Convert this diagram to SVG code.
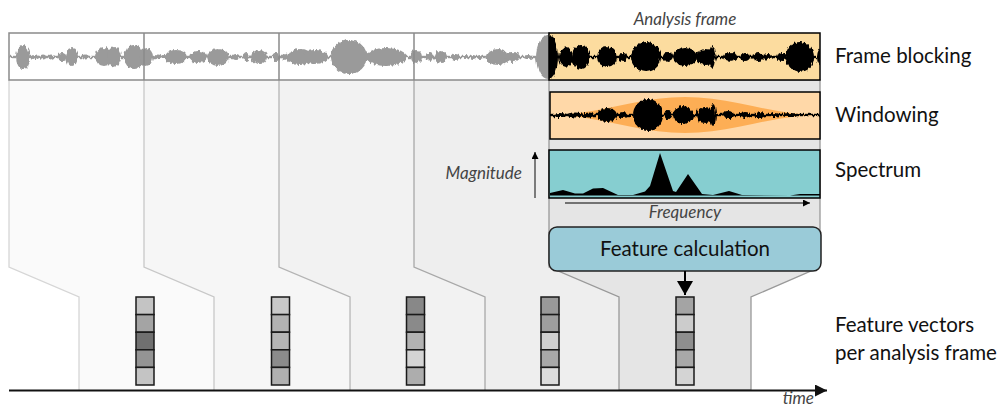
<svg xmlns="http://www.w3.org/2000/svg" width="1001" height="406" viewBox="0 0 1001 406">
  <defs>
    <style>
      .lbl { font-family: Lato, "Liberation Sans", sans-serif; font-size: 20.5px; fill: #111; }
      .cap { font-family: Lato, "Liberation Sans", sans-serif; font-size: 17px; font-style: italic; fill: #444; }
      .wave-gray { fill: #9a9a9a; }
      .wave-black { fill: #000; }
      .cell { stroke: #1a1a1a; stroke-width: 1.5; }
      .col-edge { fill: none; stroke-width: 1.3; }
    </style>
    <!-- ragged edges for the audio envelopes -->
    <filter id="jag" x="-2%" y="-30%" width="104%" height="160%">
      <feTurbulence type="fractalNoise" baseFrequency="0.5 0.09" numOctaves="2" seed="7" result="n"/>
      <feDisplacementMap in="SourceGraphic" in2="n" scale="5" xChannelSelector="R" yChannelSelector="G"/>
    </filter>
    <marker id="mk-time" markerUnits="userSpaceOnUse" markerWidth="13" markerHeight="13" refX="12" refY="6" orient="auto">
      <path d="M0,0 L12,6 L0,12 Z" fill="#111"/>
    </marker>
    <marker id="mk-feat" markerUnits="userSpaceOnUse" markerWidth="17" markerHeight="17" refX="14" refY="8" orient="auto">
      <path d="M0,0 L14,8 L0,16 Z" fill="#000"/>
    </marker>
    <marker id="mk-small" markerUnits="userSpaceOnUse" markerWidth="8" markerHeight="8" refX="7" refY="3.5" orient="auto">
      <path d="M0,0 L7,3.5 L0,7 Z" fill="#000"/>
    </marker>
    <clipPath id="clip-gray"><rect x="9" y="33" width="540" height="47"/></clipPath>
    <clipPath id="clip-black"><rect x="549" y="33" width="271" height="47"/></clipPath>
    <clipPath id="clip-win"><rect x="550" y="92" width="270" height="47"/></clipPath>
  </defs>

  <rect width="1001" height="406" fill="#fff"/>

  <!-- overlapping frame columns, each one drawn over the previous -->
  <g id="frame-columns">
    <path d="M9,80 L9,267 L79,297 L79,390 L214,390 L214,297 L280,267 L280,80 Z" fill="#fafafa"/>
    <path class="col-edge" d="M9,80 L9,267 L79,297 L79,390" stroke="#d6d6d6"/>
    <path d="M144,80 L144,267 L214,297 L214,390 L349,390 L349,297 L415,267 L415,80 Z" fill="#f6f6f6"/>
    <path class="col-edge" d="M144,80 L144,267 L214,297 L214,390" stroke="#c8c8c8"/>
    <path d="M279,80 L279,267 L350,297 L350,390 L485,390 L485,297 L550,267 L550,80 Z" fill="#f2f2f2"/>
    <path class="col-edge" d="M279,80 L279,267 L350,297 L350,390" stroke="#b4b4b4"/>
    <path d="M414,80 L414,267 L485,297 L485,390 L620,390 L620,297 L685,267 L685,80 Z" fill="#eeeeee"/>
    <path class="col-edge" d="M414,80 L414,267 L485,297 L485,390" stroke="#a8a8a8"/>
    <path d="M549,80 L549,267 L619,297 L619,390 L751,390 L751,297 L820,267 L820,80 Z" fill="#e5e5e5" stroke="#999" stroke-width="1.3"/>
  </g>

  <!-- signal cut into frames -->
  <g id="frame-strip">
    <rect x="9" y="33" width="540" height="47" fill="#fff" stroke="#8a8a8a" stroke-width="1.5"/>
    <g clip-path="url(#clip-gray)">
      <g class="wave-gray" filter="url(#jag)">
        <rect x="9" y="55.8" width="545" height="2.4"/>
        <ellipse cx="23" cy="57" rx="7" ry="12"/>
        <ellipse cx="35" cy="57" rx="3" ry="2"/>
        <ellipse cx="43" cy="57" rx="3" ry="2.5"/>
        <ellipse cx="51" cy="57" rx="3" ry="2.5"/>
        <ellipse cx="62" cy="57" rx="4.5" ry="4"/>
        <ellipse cx="72" cy="57" rx="6" ry="9"/>
        <ellipse cx="85" cy="57" rx="4" ry="2.5"/>
        <ellipse cx="104" cy="57" rx="9" ry="9"/>
        <ellipse cx="114" cy="57" rx="7" ry="10"/>
        <ellipse cx="134" cy="57" rx="10" ry="12"/>
        <ellipse cx="146" cy="57" rx="7" ry="9"/>
        <ellipse cx="158" cy="57" rx="3.5" ry="2.5"/>
        <ellipse cx="164" cy="57" rx="3" ry="2"/>
        <ellipse cx="176" cy="57" rx="11" ry="7"/>
        <ellipse cx="198" cy="57" rx="9" ry="6"/>
        <ellipse cx="218" cy="57" rx="11" ry="9"/>
        <ellipse cx="236" cy="57" rx="3.5" ry="3"/>
        <ellipse cx="246" cy="57" rx="3.5" ry="4"/>
        <ellipse cx="259" cy="57" rx="8" ry="7"/>
        <ellipse cx="276" cy="57" rx="4" ry="4"/>
        <ellipse cx="284" cy="57" rx="3.5" ry="3"/>
        <ellipse cx="300" cy="57" rx="13" ry="8"/>
        <ellipse cx="315" cy="57" rx="13" ry="7"/>
        <ellipse cx="349" cy="57" rx="18" ry="17"/>
        <ellipse cx="386" cy="57" rx="21" ry="9"/>
        <ellipse cx="416" cy="57" rx="6" ry="7"/>
        <ellipse cx="430" cy="57" rx="3.5" ry="5"/>
        <ellipse cx="441" cy="57" rx="6" ry="6"/>
        <ellipse cx="455" cy="57" rx="4.5" ry="3"/>
        <ellipse cx="466" cy="57" rx="2.5" ry="2"/>
        <ellipse cx="473" cy="57" rx="2.5" ry="2"/>
        <ellipse cx="480" cy="57" rx="2.5" ry="2"/>
        <ellipse cx="498" cy="57" rx="12" ry="8"/>
        <ellipse cx="512" cy="57" rx="8" ry="5"/>
        <ellipse cx="528" cy="57" rx="4" ry="2"/>
        <ellipse cx="548" cy="57" rx="12" ry="22"/>
      </g>
    </g>
    <line x1="144" y1="33" x2="144" y2="80" stroke="#8a8a8a" stroke-width="1.5"/>
    <line x1="279" y1="33" x2="279" y2="80" stroke="#8a8a8a" stroke-width="1.5"/>
    <line x1="414" y1="33" x2="414" y2="80" stroke="#8a8a8a" stroke-width="1.5"/>
  </g>

  <!-- the frame being analysed -->
  <g id="analysis-frame">
    <rect x="549" y="33" width="271" height="47" fill="#fcdc9f"/>
    <g clip-path="url(#clip-black)">
      <g class="wave-black" filter="url(#jag)">
        <rect x="545" y="55.8" width="280" height="2.4"/>
        <ellipse cx="548" cy="57" rx="10" ry="22"/>
        <ellipse cx="566" cy="57" rx="7" ry="10"/>
        <ellipse cx="581" cy="57" rx="9" ry="12"/>
        <ellipse cx="607" cy="57" rx="10" ry="10"/>
        <ellipse cx="623" cy="57" rx="4" ry="4"/>
        <ellipse cx="646" cy="57" rx="15" ry="15"/>
        <ellipse cx="668" cy="57" rx="5" ry="5"/>
        <ellipse cx="685" cy="57" rx="12" ry="9"/>
        <ellipse cx="706" cy="57" rx="10" ry="8"/>
        <ellipse cx="712" cy="57" rx="3" ry="11"/>
        <ellipse cx="730" cy="57" rx="7" ry="5"/>
        <ellipse cx="745" cy="57" rx="5" ry="4"/>
        <ellipse cx="758" cy="57" rx="6" ry="4"/>
        <ellipse cx="768" cy="57" rx="4" ry="3"/>
        <ellipse cx="782" cy="57" rx="5" ry="4"/>
        <ellipse cx="800" cy="57" rx="14" ry="15"/>
        <ellipse cx="823" cy="57" rx="6" ry="10"/>
      </g>
    </g>
    <rect x="549" y="33" width="271" height="47" fill="none" stroke="#000" stroke-width="1.5"/>
    <text class="cap" x="685" y="25" text-anchor="middle" font-size="16.5">Analysis frame</text>
  </g>

  <!-- Hann-windowed frame -->
  <g id="windowing">
    <rect x="550" y="92" width="270" height="47" fill="#ffd8a8"/>
    <path d="M550,115 L563.5,114.6 L577,113.3 L590.5,111.3 L604,108.8 L617.5,106 L631,103.2 L644.5,100.7 L658,98.7 L671.5,97.4 L685,97 L698.5,97.4 L712,98.7 L725.5,100.7 L739,103.2 L752.5,106 L766,108.8 L779.5,111.3 L793,113.3 L806.5,114.6 L820,115 L806.5,115.4 L793,116.7 L779.5,118.7 L766,121.2 L752.5,124 L739,126.8 L725.5,129.3 L712,131.3 L698.5,132.6 L685,133 L671.5,132.6 L658,131.3 L644.5,129.3 L631,126.8 L617.5,124 L604,121.2 L590.5,118.7 L577,116.7 L563.5,115.4 Z" fill="#fdae55"/>
    <g clip-path="url(#clip-win)">
      <g class="wave-black" filter="url(#jag)">
        <rect x="545" y="113.8" width="280" height="2.4"/>
        <ellipse cx="560" cy="115" rx="6" ry="2"/>
        <ellipse cx="575" cy="115" rx="8" ry="2.5"/>
        <ellipse cx="589" cy="115" rx="6" ry="2.5"/>
        <ellipse cx="607" cy="115" rx="10" ry="7"/>
        <ellipse cx="623" cy="115" rx="4.5" ry="3"/>
        <ellipse cx="648" cy="115" rx="15" ry="16"/>
        <ellipse cx="668" cy="115" rx="4.5" ry="5"/>
        <ellipse cx="683" cy="115" rx="10" ry="9"/>
        <ellipse cx="705" cy="115" rx="9" ry="8"/>
        <ellipse cx="713" cy="115" rx="3" ry="11"/>
        <ellipse cx="728" cy="115" rx="6" ry="4"/>
        <ellipse cx="745" cy="115" rx="6" ry="3"/>
        <ellipse cx="760" cy="115" rx="5" ry="3"/>
        <ellipse cx="775" cy="115" rx="4" ry="2"/>
        <ellipse cx="790" cy="115" rx="8" ry="2"/>
      </g>
    </g>
    <rect x="550" y="92" width="270" height="47" fill="none" stroke="#000" stroke-width="1.5"/>
  </g>

  <!-- magnitude spectrum -->
  <g id="spectrum">
    <rect x="549" y="150" width="271" height="48" fill="#86ced0"/>
    <path d="M550,195.5 L550,193 L563,190 L575,193.5 L583,193.5 L593,188.5 L603,188 L618,195 L633,195 L645,191.5 L650,186 L660,153 L673,191 L676,192 L688,174 L702,194 L713,195 L729,191 L742,195 L790,195.5 L800,194 L820,194 L820,195.5 Z" fill="#000"/>
    <rect x="549" y="150" width="271" height="48" fill="none" stroke="#000" stroke-width="1.5"/>
    <text class="cap" x="522" y="179" text-anchor="end">Magnitude</text>
    <text class="cap" x="685" y="218" text-anchor="middle">Frequency</text>
  </g>

  <g id="feature-calculation">
    <rect x="549" y="227" width="272" height="44" rx="8" ry="8" fill="#9acbd8" stroke="#222" stroke-width="1.5"/>
    <text class="lbl" x="685" y="256" text-anchor="middle" font-size="19.4">Feature calculation</text>
  </g>

  <!-- one feature vector per frame -->
  <g id="feature-vector-1">
    <rect class="cell" x="136" y="297" width="18" height="17.6" fill="#c4c4c4"/>
    <rect class="cell" x="136" y="314.6" width="18" height="17.6" fill="#a4a4a4"/>
    <rect class="cell" x="136" y="332.2" width="18" height="17.6" fill="#707070"/>
    <rect class="cell" x="136" y="349.8" width="18" height="17.6" fill="#949494"/>
    <rect class="cell" x="136" y="367.4" width="18" height="17.6" fill="#c4c4c4"/>
  </g>
  <g id="feature-vector-2">
    <rect class="cell" x="271.5" y="297" width="18" height="17.6" fill="#c8c8c8"/>
    <rect class="cell" x="271.5" y="314.6" width="18" height="17.6" fill="#b2b2b2"/>
    <rect class="cell" x="271.5" y="332.2" width="18" height="17.6" fill="#b6b6b6"/>
    <rect class="cell" x="271.5" y="349.8" width="18" height="17.6" fill="#8b8b8b"/>
    <rect class="cell" x="271.5" y="367.4" width="18" height="17.6" fill="#b0b0b0"/>
  </g>
  <g id="feature-vector-3">
    <rect class="cell" x="406.5" y="297" width="18" height="17.6" fill="#888888"/>
    <rect class="cell" x="406.5" y="314.6" width="18" height="17.6" fill="#8a8a8a"/>
    <rect class="cell" x="406.5" y="332.2" width="18" height="17.6" fill="#b2b2b2"/>
    <rect class="cell" x="406.5" y="349.8" width="18" height="17.6" fill="#d4d4d4"/>
    <rect class="cell" x="406.5" y="367.4" width="18" height="17.6" fill="#adadad"/>
  </g>
  <g id="feature-vector-4">
    <rect class="cell" x="541" y="297" width="18" height="17.6" fill="#999999"/>
    <rect class="cell" x="541" y="314.6" width="18" height="17.6" fill="#9e9e9e"/>
    <rect class="cell" x="541" y="332.2" width="18" height="17.6" fill="#d0d0d0"/>
    <rect class="cell" x="541" y="349.8" width="18" height="17.6" fill="#a8a8a8"/>
    <rect class="cell" x="541" y="367.4" width="18" height="17.6" fill="#dcdcdc"/>
  </g>
  <g id="feature-vector-5">
    <rect class="cell" x="676" y="297" width="18" height="17.6" fill="#a4a4a4"/>
    <rect class="cell" x="676" y="314.6" width="18" height="17.6" fill="#cccccc"/>
    <rect class="cell" x="676" y="332.2" width="18" height="17.6" fill="#8e8e8e"/>
    <rect class="cell" x="676" y="349.8" width="18" height="17.6" fill="#a8a8a8"/>
    <rect class="cell" x="676" y="367.4" width="18" height="17.6" fill="#d4d4d4"/>
  </g>

  <g id="connectors">
    <line x1="535" y1="198" x2="535" y2="152" stroke="#555" stroke-width="1.5" marker-end="url(#mk-small)"/>
    <line x1="565" y1="203" x2="810" y2="203" stroke="#000" stroke-width="1.2" marker-end="url(#mk-small)"/>
    <line x1="685" y1="271" x2="685" y2="295" stroke="#000" stroke-width="2" marker-end="url(#mk-feat)"/>
    <line x1="9" y1="390.5" x2="827" y2="390.5" stroke="#111" stroke-width="2" marker-end="url(#mk-time)"/>
  </g>

  <g id="labels">
    <text class="cap" x="814" y="404" text-anchor="end" font-size="15.5">time</text>
    <text class="lbl" x="835" y="63">Frame blocking</text>
    <text class="lbl" x="835" y="122">Windowing</text>
    <text class="lbl" x="835" y="177">Spectrum</text>
    <text class="lbl" x="835" y="332">Feature vectors</text>
    <text class="lbl" x="835" y="360">per analysis frame</text>
  </g>
</svg>
